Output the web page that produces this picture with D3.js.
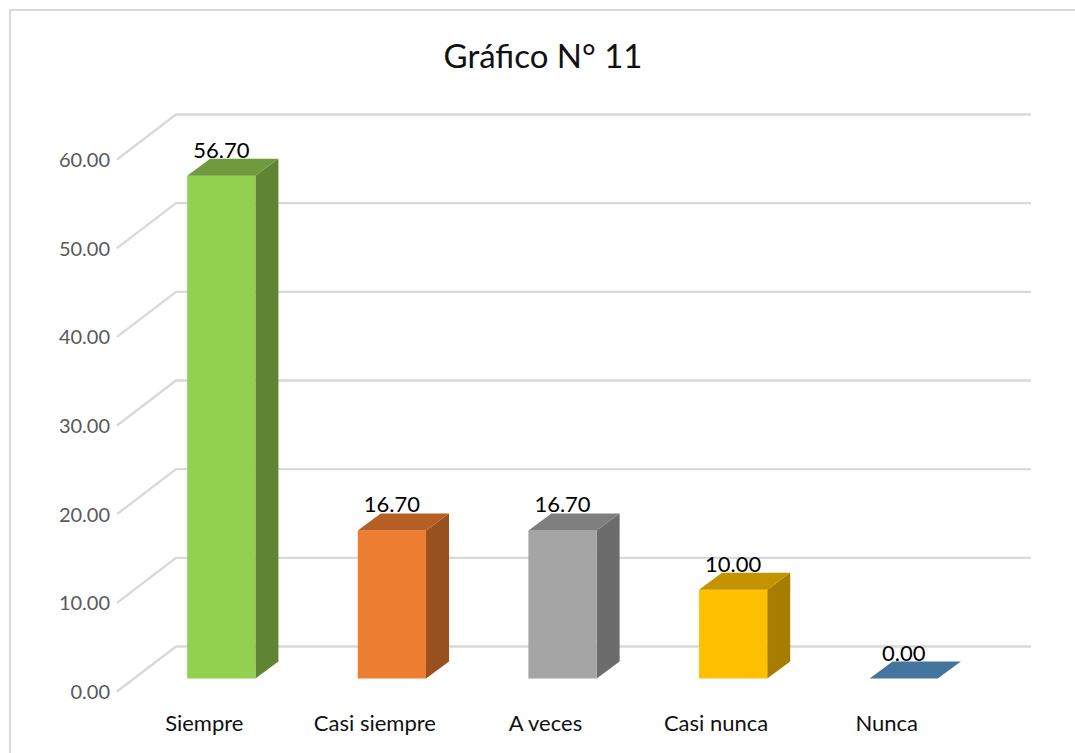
<!DOCTYPE html>
<html><head><meta charset="utf-8">
<script src="https://cdn.jsdelivr.net/npm/d3@7/dist/d3.min.js"></script>
<style>html,body{margin:0;padding:0;background:#fff}svg{display:block}text{font-family:Lato,"Noto Sans",sans-serif}</style>
</head><body><svg id="c" width="1075" height="753"></svg>
<script>
const categories=["Siempre","Casi siempre","A veces","Casi nunca","Nunca"];
const values=[56.70,16.70,16.70,10.00,0.00];
const frontColors=["#92d050","#ed7d31","#a5a5a5","#ffc000","#5b9bd5"];
const topColors=["#6f9a3d","#b65f25","#7f7f7f","#c39300","#44759f"];
const sideColors=["#5f8432","#9a5120","#6c6c6c","#a67d00","#3a6488"];
const tickValues=[0,10,20,30,40,50,60];
const titleText="Gráfico N° 11";

const svg=d3.select("#c");
const W=1075,H=753;
// frame
svg.append("path").attr("d",`M10 ${H}V10H${W}`).attr("fill","none").attr("stroke","#d9d9d9").attr("stroke-width",2);
svg.append("text").attr("x",543).attr("y",68).attr("text-anchor","middle").attr("font-size",33).attr("fill","#111").text(titleText);

const y=d3.scaleLinear().domain([0,60]).range([691.5,159.5]);
const x=d3.scaleBand().domain(categories).range([136,989]).paddingInner(0.6).paddingOuter(0.3);
const wallDx=59,wallDy=45,wallEnd=1031;
const depthDx=23,depthDy=17;
const barShiftY=-13;
const grid=svg.append("g").attr("fill","none").attr("stroke","#d9d9d9").attr("stroke-width",2.4);
grid.selectAll("path").data(tickValues).join("path")
  .attr("d",d=>`M117 ${y(d)}L${117+wallDx} ${y(d)-wallDy}H${wallEnd}`);
svg.append("g").selectAll("text").data(tickValues).join("text")
  .attr("x",110).attr("y",d=>y(d)+7.5).attr("text-anchor","end").attr("font-size",20).attr("fill","#595959")
  .text(d3.format(".2f"));

const bars=svg.append("g").selectAll("g").data(categories).join("g");
const X0=c=>x(c), X1=c=>x(c)+x.bandwidth();
const Y0=y(0)+barShiftY, Yv=(i)=>y(values[i])+barShiftY;
bars.append("path").attr("fill",(c,i)=>sideColors[i])
  .attr("d",(c,i)=>`M${X1(c)} ${Yv(i)}l${depthDx} ${-depthDy}V${Y0-depthDy}L${X1(c)} ${Y0}Z`);
bars.append("rect").attr("fill",(c,i)=>frontColors[i])
  .attr("x",X0).attr("width",x.bandwidth()).attr("y",(c,i)=>Yv(i)).attr("height",(c,i)=>Y0-Yv(i));
bars.append("path").attr("fill",(c,i)=>topColors[i])
  .attr("d",(c,i)=>`M${X0(c)} ${Yv(i)}l${depthDx} ${-depthDy}H${X1(c)+depthDx}L${X1(c)} ${Yv(i)}Z`);
bars.append("text").attr("x",c=>x(c)+x.bandwidth()/2).attr("y",(c,i)=>Yv(i)-18)
  .attr("text-anchor","middle").attr("font-size",22).attr("fill","#000")
  .text((c,i)=>d3.format(".2f")(values[i]));
bars.append("text").attr("x",c=>x(c)+x.bandwidth()/2-17).attr("y",731)
  .attr("text-anchor","middle").attr("font-size",22).attr("fill","#111").text(c=>c);
</script></body></html>
